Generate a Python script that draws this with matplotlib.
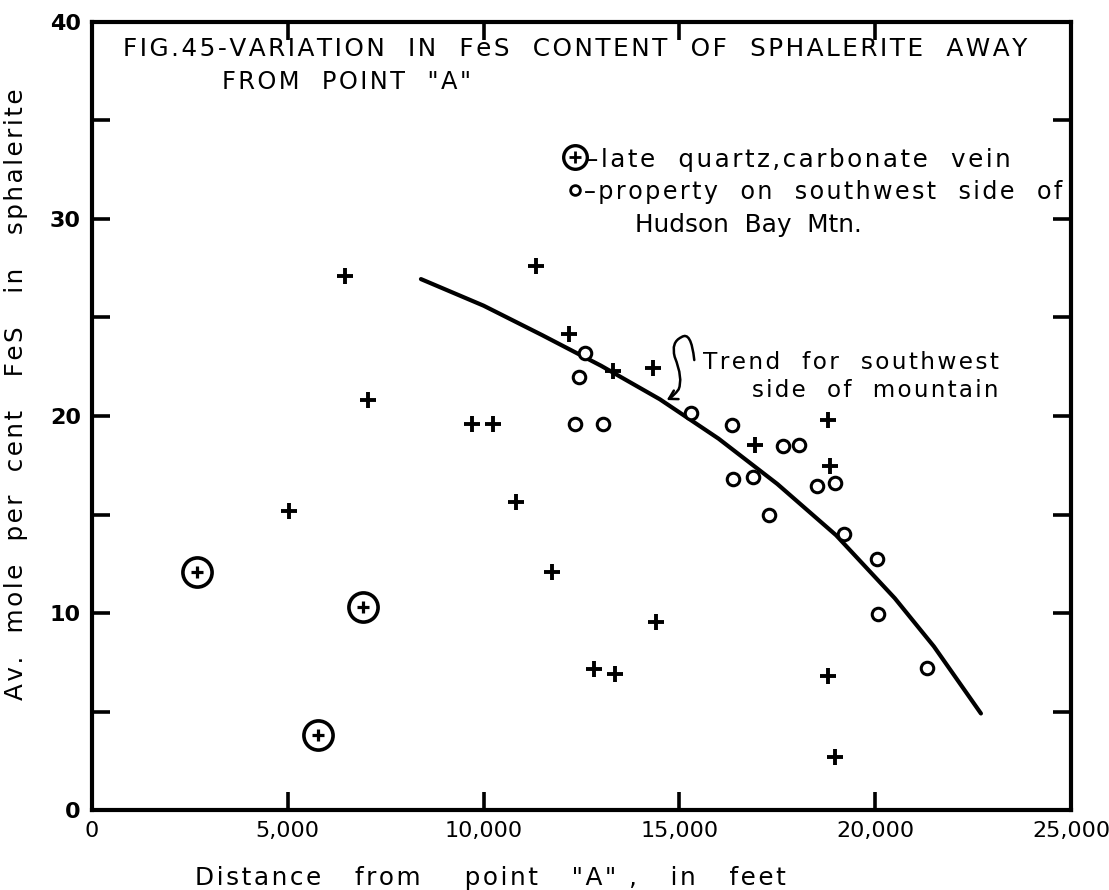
import matplotlib
matplotlib.use("Agg")
import matplotlib.pyplot as plt
from matplotlib.path import Path
from matplotlib.patches import FancyArrowPatch

# Sphalerite samples: distance from point "A" (ft) and average mole per cent FeS
cross_x = [6460, 11330, 12190, 13310, 14320, 7040, 9700, 10250, 10820, 5030,
           11740, 16930, 18790, 18850, 18800, 18970, 12820, 13360, 14400]
cross_y = [27.1, 27.6, 24.15, 22.3, 22.45, 20.8, 19.6, 19.6, 15.65, 15.2,
           12.1, 18.55, 19.8, 17.45, 6.8, 2.7, 7.15, 6.9, 9.55]

# Late quartz-carbonate veins
vein_x = [2670, 6930, 5760]
vein_y = [12.1, 10.3, 3.8]

# Property on the southwest side of Hudson Bay Mtn.
sw_x = [12600, 12440, 12330, 13040, 15290, 16340, 17640, 18050, 16360, 16890,
        18520, 18970, 17290, 19210, 20050, 20080, 21320]
sw_y = [23.2, 22.0, 19.6, 19.6, 20.15, 19.55, 18.5, 18.55, 16.8, 16.9,
        16.45, 16.6, 15.0, 14.0, 12.75, 9.95, 7.2]

# Hand-drawn trend for the southwest side
trend_x = [8400, 10000, 11500, 13000, 14500, 16000, 17500, 19000, 20500, 21500, 22700]
trend_y = [26.95, 25.6, 24.1, 22.55, 20.85, 18.85, 16.55, 13.95, 10.75, 8.3, 4.9]

x_ticks = [0, 5000, 10000, 15000, 20000, 25000]
x_tick_labels = ["0", "5,000", "10,000", "15,000", "20,000", "25,000"]
y_ticks = [0, 5, 10, 15, 20, 25, 30, 35, 40]
y_tick_labels = ["0", "", "10", "", "20", "", "30", "", "40"]

plt.rcParams["font.family"] = ["DejaVu Sans"]

fig = plt.figure(figsize=(11.09, 8.90), dpi=100)
ax = fig.add_axes([92 / 1109, 80 / 890, 979 / 1109, 788 / 890])
ax.set_xlim(0, 25000)
ax.set_ylim(0, 40)

for sp in ax.spines.values():
    sp.set_linewidth(3.0)

ax.set_xticks(x_ticks)
ax.set_xticklabels(x_tick_labels, fontsize=16)
ax.set_yticks(y_ticks)
ax.set_yticklabels(y_tick_labels, fontsize=16, fontweight="bold")
ax.tick_params(direction="in", length=13, width=2.6, top=True, right=True,
               labeltop=False, labelright=False)
ax.tick_params(axis="x", pad=8)
ax.tick_params(axis="y", pad=8)

# Trend curve
ax.plot(trend_x, trend_y, color="black", lw=3.0, solid_capstyle="round",
        solid_joinstyle="round", zorder=2)

# Sample markers
ax.plot(cross_x, cross_y, linestyle="none", marker="+", ms=11, mew=2.8,
        color="black", zorder=3)
ax.plot(sw_x, sw_y, linestyle="none", marker="o", ms=9, mew=2.2,
        markerfacecolor="white", markeredgecolor="black", zorder=3)
ax.plot(vein_x, vein_y, linestyle="none", marker="o", ms=21, mew=2.6,
        markerfacecolor="white", markeredgecolor="black", zorder=3)
ax.plot(vein_x, vein_y, linestyle="none", marker="+", ms=9, mew=2.3,
        color="black", zorder=4)

HAIR = "\u200a"
texts = []  # (text artist, wanted length in pixels)


def tracked(s, n):
    """Spread the letters of s apart with n hair spaces between them."""
    return (HAIR * n).join(s)


# Title
t = ax.text(792, 38.65, tracked("FIG.45-VARIATION  IN  FeS  CONTENT  OF  SPHALERITE  AWAY", 1),
            ha="left", va="center", fontsize=17)
texts.append((t, 907))
t = ax.text(3320, 36.95, tracked('FROM  POINT  "A"', 1), ha="left", va="center", fontsize=17)
texts.append((t, 250))

# Key
ax.plot([12330], [33.15], marker="o", ms=17, mew=2.4, markerfacecolor="white",
        markeredgecolor="black", linestyle="none")
ax.plot([12330], [33.15], marker="+", ms=8, mew=2.0, color="black", linestyle="none")
ax.plot([12330], [31.45], marker="o", ms=7, mew=2.0, markerfacecolor="white",
        markeredgecolor="black", linestyle="none")
t = ax.text(12615, 33.0, tracked("\u2013late  quartz,carbonate  vein", 1), ha="left",
            va="center", fontsize=16.5)
texts.append((t, 421))
t = ax.text(12564, 31.35, tracked("\u2013property  on  southwest  side  of", 1), ha="left",
            va="center", fontsize=16.5)
texts.append((t, 477))
t = ax.text(13866, 29.7, "Hudson  Bay  Mtn.", ha="left", va="center", fontsize=16.5)
texts.append((t, 232))

# Trend label with curled pointer
t = ax.text(15603, 22.74, tracked("Trend  for  southwest", 1), ha="left", va="center",
            fontsize=16)
texts.append((t, 297))
t = ax.text(16854, 21.3, tracked("side  of  mountain", 1), ha="left", va="center",
            fontsize=16)
texts.append((t, 248))

verts = [(15380, 22.84),
         (15300, 24.35), (15050, 24.0),
         (14780, 23.75), (14880, 23.0),
         (15100, 21.9), (14980, 21.35),
         (14850, 21.0), (14676, 20.81)]
codes = [Path.MOVETO] + [Path.CURVE3] * 8
arrow = FancyArrowPatch(path=Path(verts, codes),
                        arrowstyle="->,head_length=6,head_width=3.5",
                        lw=1.8, color="black", shrinkA=0, shrinkB=0)
ax.add_patch(arrow)

xl = ax.set_xlabel(tracked('Distance   from    point   "A" ,   in   feet', 1), fontsize=16.5)
ax.xaxis.set_label_coords(0.4065, -0.071)
texts.append((xl, 612))
yl = ax.set_ylabel(tracked("Av.  mole  per  cent   FeS   in   sphalerite", 1), fontsize=16.5)
ax.yaxis.set_label_coords(-0.0654, 0.527)
texts.append((yl, 605))

# Nudge each line's size (within a few per cent) toward its drawn length.
renderer = fig.canvas.get_renderer()
for artist, want in texts:
    bb = artist.get_window_extent(renderer)
    have = max(bb.width, bb.height)
    ratio = min(max(want / have, 0.92), 1.08)
    artist.set_fontsize(artist.get_fontsize() * ratio)

fig.savefig("out.png", dpi=100)
